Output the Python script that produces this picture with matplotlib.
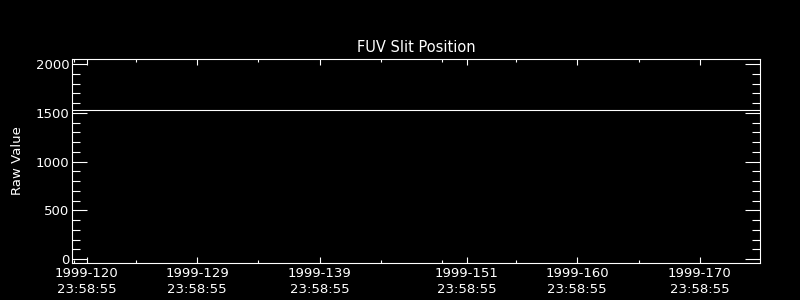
import matplotlib
matplotlib.use('Agg')
import matplotlib.pyplot as plt

#----------Datos-------------------------------#
dias = [118.8, 174.9]          # dia del año 1999
valores = [1535, 1535]         # valor crudo de la rendija FUV

dias_ticks = [120, 129, 139, 151, 160, 170]
etiquetas_x = ['1999-120\n23:58:55', '1999-129\n23:58:55', '1999-139\n23:58:55',
               '1999-151\n23:58:55', '1999-160\n23:58:55', '1999-170\n23:58:55']
dias_menores = [119, 124, 134, 144, 149, 155, 165]

y_ticks = [0, 500, 1000, 1500, 2000]
y_menores = [v for v in range(0, 2001, 100) if v % 500]

px = 0.72  # 1 pixel en puntos a dpi=100

fig = plt.figure(figsize=(8, 3), dpi=100, facecolor='black')
ax = fig.add_axes([72/800, 1-263/300, (760-72)/800, (263-59)/300], facecolor='black')

ax.plot(dias, valores, color='white', lw=1.1*px)

ax.set_xlim(118.8, 174.9)
ax.set_ylim(-41, 2054)

ax.set_xticks(dias_ticks)
ax.set_xticklabels(etiquetas_x)
ax.set_xticks(dias_menores, minor=True)
ax.set_yticks(y_ticks)
ax.set_yticks(y_menores, minor=True)

for s in ax.spines.values():
    s.set_color('white')
    s.set_linewidth(1.1*px)

ax.tick_params(axis='x', which='major', direction='in', length=6*px, width=1.1*px,
               colors='white', top=True, labelsize=9.5, pad=3)
ax.tick_params(axis='x', which='minor', direction='in', length=3*px, width=1.1*px,
               colors='white', top=True)
ax.tick_params(axis='y', which='major', direction='in', length=15*px, width=1.1*px,
               colors='white', right=True, labelsize=9.5, pad=2)
ax.tick_params(axis='y', which='minor', direction='in', length=8*px, width=1.1*px,
               colors='white', right=True)

for t in ax.get_xticklabels():
    t.set_linespacing(1.25)

ax.set_title('FUV Slit Position', color='white', fontsize=10.5, pad=5)
ax.set_ylabel('Raw Value', color='white', fontsize=9.5, labelpad=8)

plt.savefig('out.png', dpi=100, facecolor='black')
plt.close()
